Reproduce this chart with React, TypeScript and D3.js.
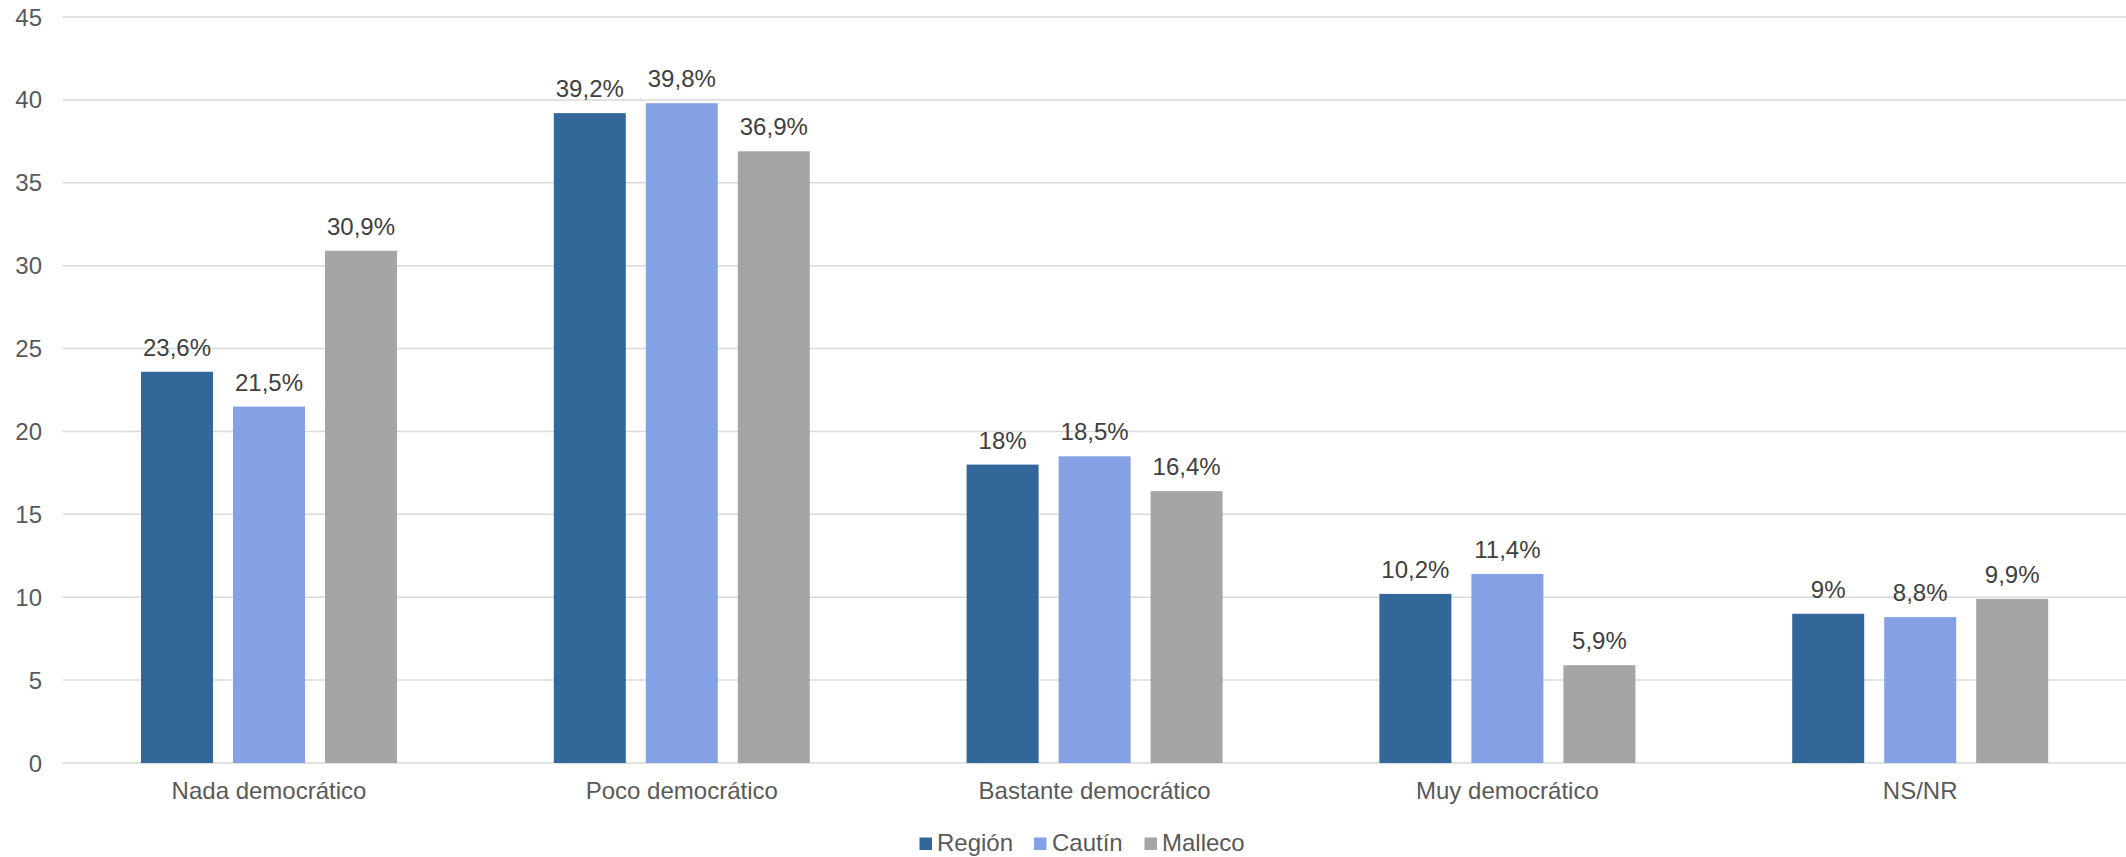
import React from "react";
import * as d3 from "d3";

const categories = ["Nada democrático", "Poco democrático", "Bastante democrático", "Muy democrático", "NS/NR"];
const seriesNames = ["Región", "Cautín", "Malleco"];
const region = [23.6, 39.2, 18, 10.2, 9];
const cautin = [21.5, 39.8, 18.5, 11.4, 8.8];
const malleco = [30.9, 36.9, 16.4, 5.9, 9.9];
const yTicks = [0, 5, 10, 15, 20, 25, 30, 35, 40, 45];
const colors = ["#336699", "#84A1E6", "#A5A5A5"];

const W = 2126;
const H = 857;
const FONT = "'Liberation Sans', Arial, sans-serif";

export default function App() {
  const seriesValues = [region, cautin, malleco];
  const left = 62.6;
  const right = 2126.6;
  const top = 17;
  const bottom = 763;
  const x0 = d3.scaleBand<string>().domain(categories).range([left, right]).padding(0);
  const x1 = d3.scaleBand<string>().domain(seriesNames).range([-128, 128]).paddingInner(20 / 92).paddingOuter(0);
  const y = d3.scaleLinear().domain([0, 45]).range([bottom, top]);
  const fmt = (v: number) => String(v).replace(".", ",") + "%";

  const legendItems = [
    { name: "Región", sx: 919.5, tx: 937 },
    { name: "Cautín", sx: 1034, tx: 1052 },
    { name: "Malleco", sx: 1144.5, tx: 1162 },
  ];

  return (
    <svg width={W} height={H} style={{ position: "absolute", left: 0, top: 0, background: "#fff" }} fontFamily={FONT}>
      <rect x={0} y={0} width={W} height={H} fill="#fff" />
      {yTicks.map((t) => (
        <g key={t}>
          <line x1={left} x2={W} y1={y(t)} y2={y(t)} stroke="#D9D9D9" strokeWidth={1.5} />
          <text x={42} y={y(t) + 8.5} textAnchor="end" fontSize={24} fill="#595959">
            {t}
          </text>
        </g>
      ))}
      {categories.map((c, ci) => {
        const cx = (x0(c) as number) + x0.bandwidth() / 2;
        return (
          <g key={c}>
            {seriesNames.map((s, si) => {
              const v = seriesValues[si][ci];
              const bx = cx + (x1(s) as number);
              return (
                <g key={s}>
                  <rect x={bx} y={y(v)} width={x1.bandwidth()} height={bottom - y(v)} fill={colors[si]} />
                  <text x={bx + x1.bandwidth() / 2} y={y(v) - 16} textAnchor="middle" fontSize={24} fill="#404040">
                    {fmt(v)}
                  </text>
                </g>
              );
            })}
            <text x={cx} y={799} textAnchor="middle" fontSize={24} fill="#595959">
              {c}
            </text>
          </g>
        );
      })}
      {legendItems.map((l, i) => (
        <g key={l.name}>
          <rect x={l.sx} y={837.5} width={12.5} height={12.5} fill={colors[i]} />
          <text x={l.tx} y={850.5} fontSize={24} fill="#595959">
            {l.name}
          </text>
        </g>
      ))}
    </svg>
  );
}
